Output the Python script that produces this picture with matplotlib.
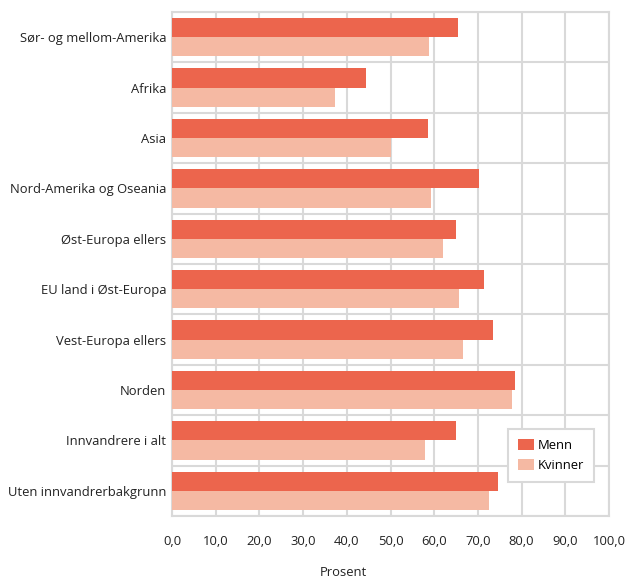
import matplotlib
matplotlib.use("Agg")
import matplotlib.pyplot as plt
import numpy as np

plt.rcParams['font.family'] = ['Open Sans', 'DejaVu Sans']

categories = ["Sør- og mellom-Amerika", "Afrika", "Asia", "Nord-Amerika og Oseania",
              "Øst-Europa ellers", "EU land i Øst-Europa", "Vest-Europa ellers",
              "Norden", "Innvandrere i alt", "Uten innvandrerbakgrunn"]
menn = [65.4, 44.3, 58.5, 70.2, 64.9, 71.3, 73.4, 78.4, 64.9, 74.5]
kvinner = [58.9, 37.4, 50.2, 59.2, 61.9, 65.6, 66.7, 77.8, 57.8, 72.5]
xticks = [0, 10, 20, 30, 40, 50, 60, 70, 80, 90, 100]
xticklabels = ["0,0", "10,0", "20,0", "30,0", "40,0", "50,0", "60,0", "70,0", "80,0", "90,0", "100,0"]

c_menn = "#EC654D"
c_kv = "#F5B9A3"
grid_c = "#D9D9D9"
fs = 9.4

fig = plt.figure(figsize=(6.25, 5.79), dpi=100)
ax = fig.add_axes([172/625, 1-516/579, (609-172)/625, (516-12)/579])

n = len(categories)
y = np.arange(n)
h = 0.38
ax.barh(y - h/2, menn, height=h, color=c_menn, label="Menn", zorder=3)
ax.barh(y + h/2, kvinner, height=h, color=c_kv, label="Kvinner", zorder=3)

ax.set_ylim(n - 0.5, -0.5)
ax.set_xlim(0, 100)
ax.set_yticks(y)
ax.set_yticklabels(categories, fontsize=fs, color="#222222")
ax.set_xticks(xticks)
ax.set_xticklabels(xticklabels, fontsize=fs, color="#222222")
ax.tick_params(axis='both', length=0)
ax.tick_params(axis='x', pad=14)
ax.tick_params(axis='y', pad=4)

for xv in xticks:
    ax.axvline(xv, color=grid_c, lw=1.5, zorder=1)
for yv in np.arange(-0.5, n, 1.0):
    ax.axhline(yv, color=grid_c, lw=1.5, zorder=1)
for s in ax.spines.values():
    s.set_color(grid_c)
    s.set_linewidth(1.5)

ax.set_xlabel("Prosent", fontsize=fs, color="#222222")
ax.xaxis.set_label_coords((343 - 172) / 437, -(573 - 516) / 504, transform=ax.transAxes)
ax.xaxis.label.set_va("center")

leg = ax.legend(loc="lower right", bbox_to_anchor=(0.98, 0.055), fontsize=fs,
                frameon=True, fancybox=False, handlelength=1.2, handleheight=1.0,
                handletextpad=0.3, borderpad=0.75, labelspacing=0.5)
leg.get_frame().set_edgecolor(grid_c)
leg.get_frame().set_linewidth(1.5)
leg.get_frame().set_alpha(1)

fig.savefig("out.png", dpi=100)
